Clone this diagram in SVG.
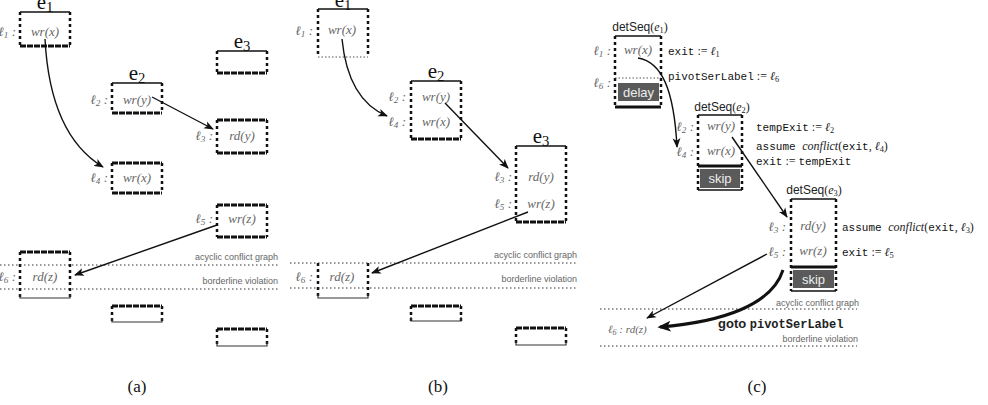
<svg xmlns="http://www.w3.org/2000/svg" width="988" height="405" viewBox="0 0 988 405">
<style>
.side{stroke:#111;stroke-width:2.5;stroke-dasharray:3 3;fill:none}
.top{stroke:#111;stroke-width:1.6}
.hatch{stroke:#111;stroke-width:3.2;stroke-dasharray:6 1}
.thick{stroke:#111;stroke-width:3}
.thin{stroke:#333;stroke-width:1.2;fill:none}
.dotl{stroke:#333;stroke-width:1.2;stroke-dasharray:1.5 2.5}
.bdot{stroke:#555;stroke-width:1.2;stroke-dasharray:1.5 2}
.op{font-family:"Liberation Serif",serif;font-style:italic;font-size:13px;fill:#666;text-anchor:middle}
.lab{font-family:"Liberation Serif",serif;font-style:italic;font-size:13px;fill:#666;text-anchor:end}
.ev{font-family:"Liberation Serif",serif;font-size:21px;fill:#111;text-anchor:middle}
.note{font-family:"Liberation Sans",sans-serif;font-size:9px;fill:#666;text-anchor:end}
.conn{stroke:#111;stroke-width:1.4;fill:none;marker-end:url(#ah)}
.code{font-family:"Liberation Mono",monospace;font-size:11px;fill:#111}
.math{font-family:"Liberation Serif",serif;font-size:12px;fill:#222}
.ds{font-family:"Liberation Sans",sans-serif;font-size:12px;fill:#222;text-anchor:middle}
.gbox{fill:#5a5a5a}
.wt{font-family:"Liberation Sans",sans-serif;font-size:13px;fill:#eee;text-anchor:middle}
.cap{font-family:"Liberation Serif",serif;font-size:17px;fill:#111;text-anchor:middle}
.sub{font-size:70%}
</style>
<defs>
<marker id="ah" viewBox="0 0 10 8" refX="9" refY="4" markerWidth="7" markerHeight="6" orient="auto" markerUnits="strokeWidth">
<path d="M0,0 L10,4 L0,8 L2.5,4 z" fill="#111"/>
</marker>
<marker id="ahb" viewBox="0 0 10 8" refX="8" refY="4" markerWidth="4.5" markerHeight="4" orient="auto" markerUnits="strokeWidth">
<path d="M0,0 L10,4 L0,8 L2.5,4 z" fill="#111"/>
</marker>
</defs>

<!-- Panel (a) -->
<g id="a-e1">
<text class="ev" x="45" y="9">e<tspan class="sub" dy="3">1</tspan></text>
<line class="top" x1="20" y1="12" x2="70" y2="12"/>
<line class="side" x1="20" y1="12" x2="20" y2="46"/><line class="side" x1="70" y1="12" x2="70" y2="46"/>
<line class="hatch" x1="20" y1="46" x2="70" y2="46"/>
<text class="lab" x="16" y="36">ℓ<tspan class="sub" dy="2">1</tspan><tspan dy="-2"> :</tspan></text>
<text class="op" x="45" y="36">wr(x)</text>
</g>
<g id="a-e3">
<text class="ev" x="242" y="48">e<tspan class="sub" dy="3">3</tspan></text>
<line class="top" x1="217" y1="51" x2="267" y2="51"/>
<line class="side" x1="217" y1="51" x2="217" y2="73"/><line class="side" x1="267" y1="51" x2="267" y2="73"/>
<line class="hatch" x1="217" y1="73" x2="267" y2="73"/>
</g>
<g id="a-e2">
<text class="ev" x="137" y="80">e<tspan class="sub" dy="3">2</tspan></text>
<line class="top" x1="112" y1="83" x2="162" y2="83"/>
<line class="side" x1="112" y1="83" x2="112" y2="113"/><line class="side" x1="162" y1="83" x2="162" y2="113"/>
<line class="hatch" x1="112" y1="113" x2="162" y2="113"/>
<text class="lab" x="108" y="104">ℓ<tspan class="sub" dy="2">2</tspan><tspan dy="-2"> :</tspan></text>
<text class="op" x="137" y="104">wr(y)</text>
</g>
<g id="a-l3">
<line class="hatch" x1="217" y1="120" x2="267" y2="120"/>
<line class="side" x1="217" y1="120" x2="217" y2="153"/><line class="side" x1="267" y1="120" x2="267" y2="153"/>
<line class="hatch" x1="217" y1="153" x2="267" y2="153"/>
<text class="lab" x="213" y="140">ℓ<tspan class="sub" dy="2">3</tspan><tspan dy="-2"> :</tspan></text>
<text class="op" x="242" y="140">rd(y)</text>
</g>
<g id="a-l4">
<line class="hatch" x1="112" y1="163" x2="162" y2="163"/>
<line class="side" x1="112" y1="163" x2="112" y2="193"/><line class="side" x1="162" y1="163" x2="162" y2="193"/>
<line class="hatch" x1="112" y1="193" x2="162" y2="193"/>
<text class="lab" x="108" y="182">ℓ<tspan class="sub" dy="2">4</tspan><tspan dy="-2"> :</tspan></text>
<text class="op" x="137" y="182">wr(x)</text>
</g>
<g id="a-l5">
<line class="hatch" x1="217" y1="205" x2="267" y2="205"/>
<line class="side" x1="217" y1="205" x2="217" y2="237"/><line class="side" x1="267" y1="205" x2="267" y2="237"/>
<line class="hatch" x1="217" y1="237" x2="267" y2="237"/>
<text class="lab" x="213" y="223">ℓ<tspan class="sub" dy="2">5</tspan><tspan dy="-2"> :</tspan></text>
<text class="op" x="242" y="223">wr(z)</text>
</g>
<g id="a-l6">
<line class="hatch" x1="20" y1="252" x2="70" y2="252"/>
<line class="side" x1="20" y1="252" x2="20" y2="298"/><line class="side" x1="70" y1="252" x2="70" y2="298"/>
<path class="thin" d="M20 294 V298 H70 V294"/>
<text class="lab" x="16" y="281">ℓ<tspan class="sub" dy="2">6</tspan><tspan dy="-2"> :</tspan></text>
<text class="op" x="45" y="281">rd(z)</text>
</g>
<g id="a-empty2">
<line class="hatch" x1="112" y1="306" x2="162" y2="306"/>
<line class="side" x1="112" y1="306" x2="112" y2="322"/><line class="side" x1="162" y1="306" x2="162" y2="322"/>
<path class="thin" d="M112 318 V322 H162 V318"/>
</g>
<g id="a-empty3">
<line class="hatch" x1="217" y1="329" x2="267" y2="329"/>
<line class="side" x1="217" y1="329" x2="217" y2="346"/><line class="side" x1="267" y1="329" x2="267" y2="346"/>
<path class="thin" d="M217 342 V346 H267 V342"/>
</g>
<g id="a-bounds">
<line class="dotl" x1="0" y1="265" x2="280" y2="265"/>
<line class="dotl" x1="0" y1="289" x2="280" y2="289"/>
<text class="note" x="278" y="260">acyclic conflict graph</text>
<text class="note" x="278" y="284">borderline violation</text>
</g>

<!-- Panel (b) -->
<g id="b-e1">
<text class="ev" x="343" y="7">e<tspan class="sub" dy="3">1</tspan></text>
<line class="top" x1="318" y1="9" x2="368" y2="9"/>
<line class="side" x1="318" y1="9" x2="318" y2="57"/><line class="side" x1="368" y1="9" x2="368" y2="57"/>
<line class="bdot" x1="318" y1="57" x2="368" y2="57"/>
<text class="lab" x="313" y="35">ℓ<tspan class="sub" dy="2">1</tspan><tspan dy="-2"> :</tspan></text>
<text class="op" x="342" y="34">wr(x)</text>
</g>
<g id="b-e2">
<text class="ev" x="436" y="78">e<tspan class="sub" dy="3">2</tspan></text>
<line class="top" x1="411" y1="81" x2="461" y2="81"/>
<line class="side" x1="411" y1="81" x2="411" y2="139"/><line class="side" x1="461" y1="81" x2="461" y2="139"/>
<line class="hatch" x1="411" y1="139" x2="461" y2="139"/>
<text class="lab" x="406" y="101">ℓ<tspan class="sub" dy="2">2</tspan><tspan dy="-2"> :</tspan></text>
<text class="op" x="436" y="101">wr(y)</text>
<text class="lab" x="406" y="126">ℓ<tspan class="sub" dy="2">4</tspan><tspan dy="-2"> :</tspan></text>
<text class="op" x="436" y="126">wr(x)</text>
</g>
<g id="b-e3">
<text class="ev" x="541" y="143">e<tspan class="sub" dy="3">3</tspan></text>
<line class="top" x1="516" y1="146" x2="566" y2="146"/>
<line class="side" x1="516" y1="146" x2="516" y2="222"/><line class="side" x1="566" y1="146" x2="566" y2="222"/>
<line class="hatch" x1="516" y1="222" x2="566" y2="222"/>
<text class="lab" x="512" y="181">ℓ<tspan class="sub" dy="2">3</tspan><tspan dy="-2"> :</tspan></text>
<text class="op" x="541" y="181">rd(y)</text>
<text class="lab" x="512" y="208">ℓ<tspan class="sub" dy="2">5</tspan><tspan dy="-2"> :</tspan></text>
<text class="op" x="541" y="208">wr(z)</text>
</g>
<g id="b-l6">
<line class="side" x1="318" y1="263" x2="318" y2="298"/><line class="side" x1="368" y1="263" x2="368" y2="298"/>
<path class="thin" d="M318 294 V298 H368 V294"/>
<text class="lab" x="313" y="281">ℓ<tspan class="sub" dy="2">6</tspan><tspan dy="-2"> :</tspan></text>
<text class="op" x="342" y="281">rd(z)</text>
</g>
<g id="b-empty2">
<line class="hatch" x1="411" y1="306" x2="461" y2="306"/>
<line class="side" x1="411" y1="306" x2="411" y2="321"/><line class="side" x1="461" y1="306" x2="461" y2="321"/>
<path class="thin" d="M411 317 V321 H461 V317"/>
</g>
<g id="b-empty3">
<line class="hatch" x1="516" y1="328" x2="566" y2="328"/>
<line class="side" x1="516" y1="328" x2="516" y2="345"/><line class="side" x1="566" y1="328" x2="566" y2="345"/>
<path class="thin" d="M516 341 V345 H566 V341"/>
</g>
<g id="b-bounds">
<line class="dotl" x1="290" y1="263" x2="577" y2="263"/>
<line class="dotl" x1="290" y1="288" x2="577" y2="288"/>
<text class="note" x="577" y="258">acyclic conflict graph</text>
<text class="note" x="577" y="282">borderline violation</text>
</g>

<!-- Panel (c) -->
<g id="c-e1">
<text class="ds" x="640" y="31">detSeq<tspan font-family="Liberation Serif">(<tspan font-style="italic">e</tspan><tspan class="sub" dy="2">1</tspan><tspan dy="-2">)</tspan></tspan></text>
<line class="top" x1="615" y1="36" x2="661" y2="36"/>
<line class="side" x1="615" y1="36" x2="615" y2="107"/><line class="side" x1="661" y1="36" x2="661" y2="107"/>
<line class="bdot" x1="615" y1="78" x2="661" y2="78"/>
<rect class="gbox" x="618" y="83" width="41" height="18"/>
<text class="wt" x="638.5" y="97">delay</text>
<line class="thick" x1="615" y1="107" x2="661" y2="107"/>
<text class="lab" x="611" y="55">ℓ<tspan class="sub" dy="2">1</tspan><tspan dy="-2"> :</tspan></text>
<text class="op" x="638" y="54" font-size="11">wr(x)</text>
<text class="lab" x="611" y="87">ℓ<tspan class="sub" dy="2">6</tspan><tspan dy="-2"> :</tspan></text>
<text x="668" y="55"><tspan class="code">exit</tspan><tspan class="math"> := <tspan font-style="italic">ℓ</tspan><tspan class="sub" dy="2">1</tspan></tspan></text>
<text x="668" y="80"><tspan class="code">pivotSerLabel</tspan><tspan class="math"> := <tspan font-style="italic">ℓ</tspan><tspan class="sub" dy="2">6</tspan></tspan></text>
</g>
<g id="c-e2">
<text class="ds" x="722" y="111">detSeq<tspan font-family="Liberation Serif">(<tspan font-style="italic">e</tspan><tspan class="sub" dy="2">2</tspan><tspan dy="-2">)</tspan></tspan></text>
<line class="top" x1="698" y1="115" x2="742" y2="115"/>
<line class="side" x1="698" y1="115" x2="698" y2="190"/><line class="side" x1="742" y1="115" x2="742" y2="190"/>
<line class="thick" x1="698" y1="166" x2="742" y2="166"/>
<rect class="gbox" x="700" y="169" width="40" height="19"/>
<text class="wt" x="720" y="183">skip</text>
<line class="top" x1="698" y1="190" x2="742" y2="190"/>
<text class="lab" x="694" y="131">ℓ<tspan class="sub" dy="2">2</tspan><tspan dy="-2"> :</tspan></text>
<text class="op" x="721" y="130" font-size="11">wr(y)</text>
<text class="lab" x="694" y="156">ℓ<tspan class="sub" dy="2">4</tspan><tspan dy="-2"> :</tspan></text>
<text class="op" x="721" y="155" font-size="11">wr(x)</text>
<text x="756" y="131"><tspan class="code">tempExit</tspan><tspan class="math"> := <tspan font-style="italic">ℓ</tspan><tspan class="sub" dy="2">2</tspan></tspan></text>
<text x="756" y="150"><tspan class="code">assume </tspan><tspan class="math" font-style="italic">conflict</tspan><tspan class="math">(</tspan><tspan class="code">exit</tspan><tspan class="math">, <tspan font-style="italic">ℓ</tspan><tspan class="sub" dy="2">4</tspan><tspan dy="-2">)</tspan></tspan></text>
<text x="756" y="165"><tspan class="code">exit</tspan><tspan class="math"> := </tspan><tspan class="code">tempExit</tspan></text>
</g>
<g id="c-e3">
<text class="ds" x="814" y="194">detSeq<tspan font-family="Liberation Serif">(<tspan font-style="italic">e</tspan><tspan class="sub" dy="2">3</tspan><tspan dy="-2">)</tspan></tspan></text>
<line class="top" x1="791" y1="199" x2="836" y2="199"/>
<line class="side" x1="791" y1="199" x2="791" y2="291"/><line class="side" x1="836" y1="199" x2="836" y2="291"/>
<line class="thick" x1="791" y1="267" x2="836" y2="267"/>
<rect class="gbox" x="793" y="270" width="41" height="18"/>
<text class="wt" x="813.5" y="284">skip</text>
<line class="top" x1="791" y1="291" x2="836" y2="291"/>
<text class="lab" x="786" y="231">ℓ<tspan class="sub" dy="2">3</tspan><tspan dy="-2"> :</tspan></text>
<text class="op" x="813" y="230" font-size="11">rd(y)</text>
<text class="lab" x="786" y="256">ℓ<tspan class="sub" dy="2">5</tspan><tspan dy="-2"> :</tspan></text>
<text class="op" x="813" y="255" font-size="11">wr(z)</text>
<text x="842" y="231"><tspan class="code">assume </tspan><tspan class="math" font-style="italic">conflict</tspan><tspan class="math">(</tspan><tspan class="code">exit</tspan><tspan class="math">, <tspan font-style="italic">ℓ</tspan><tspan class="sub" dy="2">3</tspan><tspan dy="-2">)</tspan></tspan></text>
<text x="842" y="256"><tspan class="code">exit</tspan><tspan class="math"> := <tspan font-style="italic">ℓ</tspan><tspan class="sub" dy="2">5</tspan></tspan></text>
</g>
<g id="c-l6">
<text x="608" y="333" font-family="Liberation Serif,serif" font-style="italic" font-size="11" fill="#666">ℓ<tspan font-size="8" dy="2">6</tspan><tspan dy="-2"> : rd(z)</tspan></text>
</g>
<g id="c-bounds">
<line class="dotl" x1="600" y1="309" x2="857" y2="309"/>
<line class="dotl" x1="600" y1="346" x2="857" y2="346"/>
<text class="note" x="859" y="306">acyclic conflict graph</text>
<text class="note" x="858" y="342">borderline violation</text>
<text x="718" y="328" font-size="13" fill="#222"><tspan font-family="Liberation Sans,sans-serif" font-weight="bold">goto </tspan><tspan font-family="Liberation Mono,monospace" font-weight="bold" font-size="12">pivotSerLabel</tspan></text>
</g>

<g id="connectors">
<path class="conn" d="M45 39 Q50 135 103 167"/>
<path class="conn" d="M152 97 L213 129"/>
<path class="conn" d="M217 225 L75 275"/>
<path class="conn" d="M342 39 Q348 100 387 116"/>
<path class="conn" d="M445 103 L508 168"/>
<path class="conn" d="M528 212 L372 273"/>
<path class="conn" d="M638 58 C662 62 674 90 677 147"/>
<path class="conn" d="M732 137 L787 217"/>
<path class="conn" d="M767 254 L647 318"/>
<path d="M783 270 C772 305 722 322 660 327" stroke="#111" stroke-width="3" fill="none" marker-end="url(#ahb)"/>
</g>

<g id="captions">
<text class="cap" x="137" y="392">(a)</text>
<text class="cap" x="438" y="392">(b)</text>
<text class="cap" x="757" y="392">(c)</text>
</g>
</svg>
